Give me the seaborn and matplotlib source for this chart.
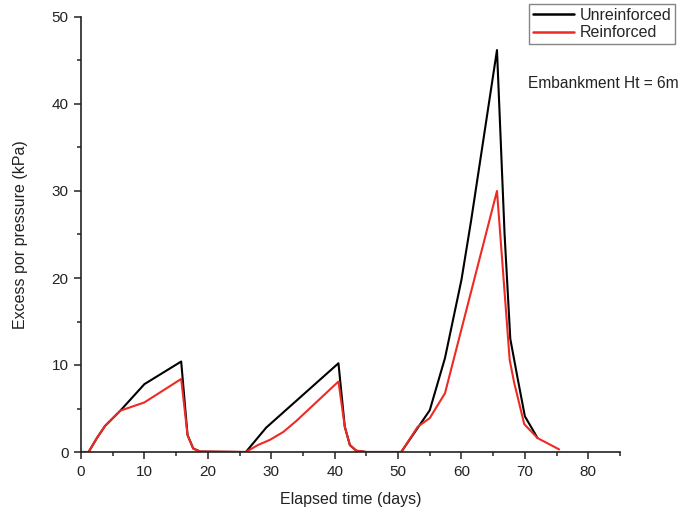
import matplotlib
matplotlib.use("Agg")
import matplotlib.pyplot as plt
from matplotlib.ticker import MultipleLocator
import numpy as np
import pandas as pd
import seaborn as sns

# Excess pore pressure under a 6 m embankment, three loading stages
time_unreinforced = [0, 1.2, 2.5, 3.8, 6.2, 10.0, 15.8, 16.8, 17.7, 18.8, 26.0,
                     29.2, 40.6, 41.6, 42.4, 43.4, 45.0, 50.5, 55.0, 57.4,
                     60.0, 61.5, 65.6, 66.8, 67.7, 68.9, 70.0, 72.0]
pressure_unreinforced = [0, 0, 1.6, 3.0, 4.75, 7.8, 10.4, 1.95, 0.4, 0.05, 0,
                         2.8, 10.2, 2.9, 0.8, 0.15, 0, 0, 4.8, 10.8,
                         19.8, 26.5, 46.2, 25.0, 13.0, 8.3, 4.1, 1.6]

time_reinforced = [0, 1.2, 2.5, 3.8, 6.2, 10.0, 15.8, 16.8, 17.7, 18.8, 26.0,
                   27.9, 29.8, 31.9, 34.0, 40.6, 41.6, 42.4, 43.4, 45.0, 50.5,
                   53.1, 55.0, 57.4, 65.6, 67.6, 68.3, 69.9, 72.0, 75.4]
pressure_reinforced = [0, 0, 1.6, 3.0, 4.75, 5.7, 8.4, 1.95, 0.4, 0.05, 0,
                       0.8, 1.4, 2.3, 3.6, 8.1, 2.9, 0.8, 0.15, 0, 0,
                       2.9, 3.9, 6.75, 30.0, 10.6, 8.0, 3.2, 1.6, 0.3]

series_names = ["Unreinforced", "Reinforced"]
series_colors = {"Unreinforced": "#000000", "Reinforced": "#ee2a24"}

df = pd.concat([
    pd.DataFrame({"time": time_unreinforced, "pressure": pressure_unreinforced,
                  "series": series_names[0]}),
    pd.DataFrame({"time": time_reinforced, "pressure": pressure_reinforced,
                  "series": series_names[1]}),
], ignore_index=True)

sns.set_style("ticks")
plt.rcParams["font.family"] = ["Liberation Sans", "DejaVu Sans"]

fig = plt.figure(figsize=(6.88, 5.16), dpi=100)
ax = fig.add_axes([81 / 688, 64 / 516, (620 - 81) / 688, (452 - 17) / 516])

sns.lineplot(data=df, x="time", y="pressure", hue="series",
             hue_order=series_names, palette=series_colors,
             sort=False, estimator=None, linewidth=1.5, ax=ax, legend=True)

ax.set_xlim(0, 85)
ax.set_ylim(0, 50)
ax.xaxis.set_major_locator(MultipleLocator(10))
ax.xaxis.set_minor_locator(MultipleLocator(5))
ax.yaxis.set_major_locator(MultipleLocator(10))
ax.yaxis.set_minor_locator(MultipleLocator(5))
ax.tick_params(which="major", direction="out", length=5, width=1.1,
               labelsize=11, colors="#222222", pad=4)
ax.tick_params(which="minor", direction="out", length=3, width=1.1)
for side in ("top", "right"):
    ax.spines[side].set_visible(False)
for side in ("left", "bottom"):
    ax.spines[side].set_linewidth(1.2)
    ax.spines[side].set_color("#222222")

ax.set_xlabel("Elapsed time (days)", fontsize=11.5, color="#222222", labelpad=10)
ax.set_ylabel("Excess por pressure (kPa)", fontsize=11.5, color="#222222", labelpad=17)

handles, labels = ax.get_legend_handles_labels()
ax.legend_.remove()
leg = fig.legend(handles, labels, loc="upper right",
                 bbox_to_anchor=(675 / 688, 1 - 4 / 516), borderaxespad=0,
                 fontsize=11.5, frameon=True, fancybox=False,
                 handlelength=2.6, handletextpad=0.3, labelspacing=0.15,
                 borderpad=0.25)
leg.get_frame().set_edgecolor("#666666")
leg.get_frame().set_linewidth(1.0)
for line in leg.get_lines():
    line.set_linewidth(1.8)

fig.text(528 / 688, 1 - 83 / 516, "Embankment Ht = 6m", fontsize=11.2,
         color="#222222", va="center", ha="left")

fig.savefig("out.png", dpi=100)
